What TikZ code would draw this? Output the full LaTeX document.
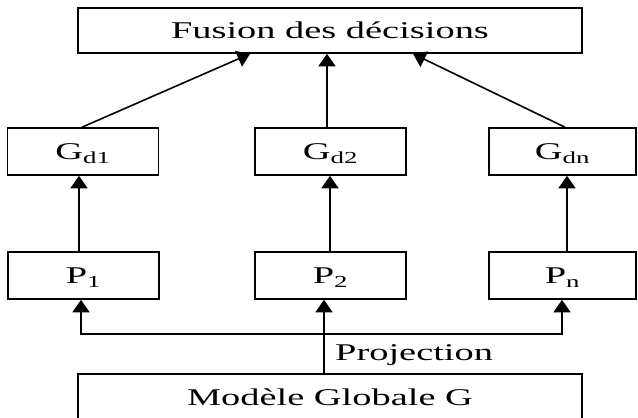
\documentclass[tikz,border=0pt]{standalone}
\usepackage{fontspec}
\setmainfont{Liberation Serif}[FakeStretch=1.6]
\usetikzlibrary{arrows.meta}
\tikzset{
  box/.style={draw, line width=1.6pt, inner sep=0pt, text height=16pt, text depth=0pt,
    font=\fontsize{24}{28}\selectfont},
  arr/.style={line width=1.6pt, -{Triangle[width=17pt,length=12.5pt]}},
  plain/.style={line width=1.6pt}
}
\begin{document}
\begin{tikzpicture}[x=1pt,y=-1pt]
\useasboundingbox (0,0) rectangle (638,418);
\clip (0,0) rectangle (638,418);

% decision fusion
\node[box, minimum width=504pt, minimum height=45pt] (fusion) at (330,30.5) {Fusion des décisions};

% partial decision graphs
\node[box, minimum width=151pt, minimum height=47pt] (gd1) at (83,151.5) {G\textsubscript{d1}};
\node[box, minimum width=151pt, minimum height=47pt] (gd2) at (330.5,151.5) {G\textsubscript{d2}};
\node[box, minimum width=147pt, minimum height=47pt] (gdn) at (562.5,151.5) {G\textsubscript{dn}};

% projections
\node[box, minimum width=151pt, minimum height=47pt] (p1) at (83.5,275.5) {P\textsubscript{1}};
\node[box, minimum width=151pt, minimum height=47pt] (p2) at (330.5,275.5) {P\textsubscript{2}};
\node[box, minimum width=147pt, minimum height=47pt] (pn) at (562.5,275.5) {P\textsubscript{n}};

% global model (runs past the lower edge)
\node[box, minimum width=504pt, minimum height=46pt] (model) at (330,397) {Modèle Globale G};

% graphs to fusion
\draw[arr] ([xshift=-1pt]gd1.north) -- ([xshift=-80pt]fusion.south);
\draw[arr] ([xshift=-3.5pt]gd2.north) -- ([xshift=-3pt]fusion.south);
\draw[arr] ([xshift=2.5pt]gdn.north) -- ([xshift=83pt]fusion.south);

% projections to graphs
\draw[arr] ([xshift=-4.5pt]p1.north) -- ([xshift=-4pt]gd1.south);
\draw[arr] ([xshift=-0.5pt]p2.north) -- ([xshift=-0.5pt]gd2.south);
\draw[arr] ([xshift=4.5pt]pn.north) -- ([xshift=4.5pt]gdn.south);

% projection of the global model
\coordinate (split) at (324,334);
\draw[arr] ([xshift=-6pt]model.north) -- ([xshift=-6.5pt]p2.south);
\draw[arr] (split) -| ([xshift=-2.5pt]p1.south);
\draw[arr] (split) -| ([xshift=-0.5pt]pn.south);
\node[anchor=base west, inner sep=0pt, font=\fontsize{24}{28}\selectfont] (proj) at (335,360) {Projection};
\end{tikzpicture}
\end{document}
